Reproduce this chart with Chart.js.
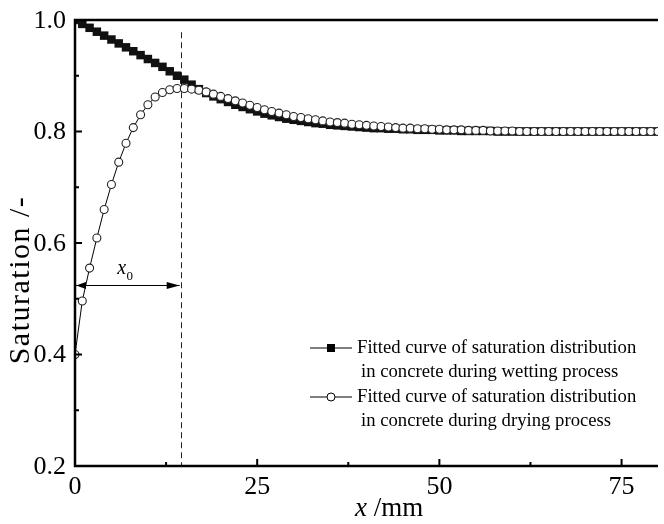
<!DOCTYPE html>
<html>
<head>
<meta charset="utf-8">
<script src="https://cdn.jsdelivr.net/npm/chart.js@4"></script>
<style>
  body { margin: 0; background: #fff; }
  canvas { display: block; }
</style>
</head>
<body>
<canvas id="chart" width="664" height="524"></canvas>
<script>
"use strict";

// Distance from the surface, mm
var distance = [
    0, 1, 2, 3, 4, 5, 6, 7, 8, 9, 10, 11, 12, 13, 14, 15, 16, 17, 18, 19, 20,
    21, 22, 23, 24, 25, 26, 27, 28, 29, 30, 31, 32, 33, 34, 35, 36, 37, 38, 39, 40,
    41, 42, 43, 44, 45, 46, 47, 48, 49, 50, 51, 52, 53, 54, 55, 56, 57, 58, 59, 60,
    61, 62, 63, 64, 65, 66, 67, 68, 69, 70, 71, 72, 73, 74, 75, 76, 77, 78, 79, 80
];

// Saturation during wetting
var wetting = [
    1.000, 0.993, 0.986, 0.979, 0.972, 0.965, 0.958, 0.951, 0.944, 0.937, 0.930,
    0.923, 0.916, 0.908, 0.900, 0.893, 0.884, 0.876, 0.869, 0.863, 0.858,
    0.853, 0.848, 0.844, 0.840, 0.836, 0.832, 0.829, 0.826, 0.823, 0.821,
    0.819, 0.817, 0.815, 0.814, 0.812, 0.811, 0.810, 0.809, 0.808, 0.807,
    0.806, 0.806, 0.805, 0.805, 0.804, 0.804, 0.803, 0.803, 0.803, 0.802,
    0.802, 0.802, 0.801, 0.801, 0.801, 0.801, 0.801, 0.800, 0.800, 0.800,
    0.800, 0.800, 0.800, 0.800, 0.800, 0.800, 0.800, 0.800, 0.800, 0.800,
    0.800, 0.800, 0.800, 0.800, 0.800, 0.800, 0.800, 0.800, 0.800, 0.800
];

// Saturation during drying
var drying = [
    0.400, 0.496, 0.555, 0.609, 0.660, 0.705, 0.745, 0.779, 0.807, 0.830, 0.848,
    0.862, 0.870, 0.875, 0.877, 0.877, 0.876, 0.874, 0.871, 0.867, 0.863,
    0.859, 0.855, 0.851, 0.847, 0.843, 0.839, 0.836, 0.833, 0.830, 0.827,
    0.825, 0.823, 0.821, 0.819, 0.817, 0.816, 0.815, 0.813, 0.812, 0.811,
    0.810, 0.809, 0.808, 0.807, 0.806, 0.806, 0.805, 0.805, 0.804, 0.804,
    0.803, 0.803, 0.803, 0.802, 0.802, 0.802, 0.801, 0.801, 0.801, 0.801,
    0.800, 0.800, 0.800, 0.800, 0.800, 0.800, 0.800, 0.800, 0.800, 0.800,
    0.800, 0.800, 0.800, 0.800, 0.800, 0.800, 0.800, 0.800, 0.800, 0.800
];

var xTicks = [0, 25, 50, 75];
var xMinorTicks = [12.5, 37.5, 62.5];
var yTicks = [0.2, 0.4, 0.6, 0.8, 1.0];
var yTickLabels = ["0.2", "0.4", "0.6", "0.8", "1.0"];
var yMinorTicks = [0.3, 0.5, 0.7, 0.9];

var peakX = 14.5;       // position of x0 (dashed line)
var arrowY = 0.525;     // height of the x0 arrow

var legendLines = [
    "Fitted curve of saturation distribution",
    "in concrete during wetting process",
    "Fitted curve of saturation distribution",
    "in concrete during drying process"
];

var serif = "'Liberation Serif', 'Times New Roman', serif";

function toPoints(ys) {
    return distance.map(function (x, i) { return { x: x, y: ys[i] }; });
}

var decorations = {
    id: "decorations",
    beforeDatasetsDraw: function (chart) {
        var ctx = chart.ctx;
        var xs = chart.scales.x, ys = chart.scales.y;
        var px = Math.round(xs.getPixelForValue(peakX)) + 0.5;

        // Dashed vertical line at x0
        ctx.save();
        ctx.strokeStyle = "#222";
        ctx.lineWidth = 1;
        ctx.setLineDash([6, 4]);
        ctx.beginPath();
        ctx.moveTo(px, ys.getPixelForValue(0.978));
        ctx.lineTo(px, chart.chartArea.bottom);
        ctx.stroke();
        ctx.restore();
    },
    afterDatasetsDraw: function (chart) {
        var ctx = chart.ctx;
        var a = chart.chartArea;
        var xs = chart.scales.x, ys = chart.scales.y;
        var i, p;

        ctx.save();
        ctx.strokeStyle = "#000";
        ctx.fillStyle = "#000";

        // Frame: left, bottom and top
        ctx.lineWidth = 2.5;
        ctx.beginPath();
        ctx.moveTo(a.right, a.top);
        ctx.lineTo(a.left, a.top);
        ctx.lineTo(a.left, a.bottom);
        ctx.lineTo(a.right, a.bottom);
        ctx.stroke();

        // Inward ticks
        ctx.lineWidth = 2;
        ctx.beginPath();
        for (i = 0; i < xTicks.length; i++) {
            p = xs.getPixelForValue(xTicks[i]);
            ctx.moveTo(p, a.bottom); ctx.lineTo(p, a.bottom - 7);
        }
        for (i = 0; i < xMinorTicks.length; i++) {
            p = xs.getPixelForValue(xMinorTicks[i]);
            ctx.moveTo(p, a.bottom); ctx.lineTo(p, a.bottom - 4);
        }
        for (i = 0; i < yTicks.length; i++) {
            p = ys.getPixelForValue(yTicks[i]);
            ctx.moveTo(a.left, p); ctx.lineTo(a.left + 7, p);
        }
        for (i = 0; i < yMinorTicks.length; i++) {
            p = ys.getPixelForValue(yMinorTicks[i]);
            ctx.moveTo(a.left, p); ctx.lineTo(a.left + 4, p);
        }
        ctx.stroke();

        // Tick labels
        ctx.font = "26px " + serif;
        ctx.textAlign = "center";
        ctx.textBaseline = "middle";
        for (i = 0; i < xTicks.length; i++) {
            ctx.fillText(String(xTicks[i]), xs.getPixelForValue(xTicks[i]), a.bottom + 21);
        }
        ctx.textAlign = "right";
        for (i = 0; i < yTicks.length; i++) {
            ctx.fillText(yTickLabels[i], a.left - 9, ys.getPixelForValue(yTicks[i]) + 1);
        }

        // Axis titles
        ctx.textAlign = "left";
        ctx.textBaseline = "alphabetic";
        ctx.font = "italic 27px " + serif;
        var tx = 355;
        ctx.fillText("x", tx, 516);
        tx += ctx.measureText("x ").width;
        ctx.font = "27px " + serif;
        ctx.fillText("/mm", tx, 516);

        ctx.save();
        ctx.translate(29, 280);
        ctx.rotate(-Math.PI / 2);
        ctx.textAlign = "center";
        ctx.font = "30px " + serif;
        ctx.letterSpacing = "1.5px";
        ctx.fillText("Saturation /-", 0, 0);
        ctx.restore();

        // x0 arrow
        var ay = Math.round(ys.getPixelForValue(arrowY)) + 0.5;
        var x0 = a.left + 1, x1 = xs.getPixelForValue(peakX) - 1;
        ctx.lineWidth = 1;
        ctx.beginPath();
        ctx.moveTo(x0, ay); ctx.lineTo(x1, ay);
        ctx.stroke();
        ctx.beginPath();
        ctx.moveTo(x1, ay); ctx.lineTo(x1 - 13, ay - 3.5); ctx.lineTo(x1 - 13, ay + 3.5);
        ctx.closePath(); ctx.fill();
        ctx.beginPath();
        ctx.moveTo(x0, ay); ctx.lineTo(x0 + 10, ay - 3.5); ctx.lineTo(x0 + 10, ay + 3.5);
        ctx.closePath(); ctx.fill();

        ctx.font = "italic 20px " + serif;
        ctx.textAlign = "center";
        ctx.textBaseline = "alphabetic";
        var lx = xs.getPixelForValue(6.4);
        ctx.fillText("x", lx, ay - 12);
        ctx.font = "13px " + serif;
        ctx.fillText("0", lx + 8, ay - 6);

        // Legend
        var lgX = 310, lgY = 348, step = 24.5;
        ctx.font = "18.7px " + serif;
        ctx.textAlign = "left";
        ctx.textBaseline = "middle";
        for (i = 0; i < legendLines.length; i++) {
            var indent = (i % 2 === 0) ? 47 : 51;
            ctx.fillText(legendLines[i], lgX + indent, lgY + i * step);
        }
        ctx.lineWidth = 1;
        ctx.beginPath();
        ctx.moveTo(lgX, lgY); ctx.lineTo(lgX + 42, lgY);
        ctx.moveTo(lgX, lgY + 2 * step); ctx.lineTo(lgX + 42, lgY + 2 * step);
        ctx.stroke();
        ctx.fillRect(lgX + 21 - 4, lgY - 4, 8, 8);
        ctx.beginPath();
        ctx.arc(lgX + 21, lgY + 2 * step, 4, 0, Math.PI * 2);
        ctx.fillStyle = "#fff";
        ctx.fill();
        ctx.stroke();

        ctx.restore();
    }
};

var config = {
    type: "line",
    data: {
        datasets: [
            {
                label: "wetting",
                data: toPoints(wetting),
                order: 1,
                borderColor: "#000",
                borderWidth: 1,
                backgroundColor: "#000",
                pointStyle: "rect",
                pointRadius: 6,
                pointBorderWidth: 0,
                pointBackgroundColor: "#111",
                tension: 0
            },
            {
                label: "drying",
                data: toPoints(drying),
                order: 0,
                borderColor: "#000",
                borderWidth: 1,
                pointStyle: "circle",
                pointRadius: 4,
                pointBorderWidth: 1.1,
                pointBorderColor: "#222",
                pointBackgroundColor: "#fff",
                tension: 0
            }
        ]
    },
    options: {
        responsive: false,
        animation: false,
        devicePixelRatio: 1,
        layout: { padding: { left: 75, top: 20, right: 0, bottom: 58 } },
        plugins: {
            legend: { display: false },
            tooltip: { enabled: false },
            title: { display: false }
        },
        scales: {
            x: { type: "linear", min: 0, max: 80, display: false },
            y: { type: "linear", min: 0.2, max: 1.0, display: false }
        }
    },
    plugins: [decorations]
};

var chart = new Chart(document.getElementById("chart").getContext("2d"), config);
</script>
</body>
</html>
